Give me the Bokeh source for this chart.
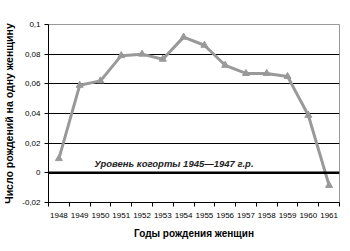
from bokeh.plotting import figure
from bokeh.models import FixedTicker, Label, Span
from bokeh.embed import file_html
from bokeh.resources import INLINE

years = ["1948", "1949", "1950", "1951", "1952", "1953", "1954", "1955",
         "1956", "1957", "1958", "1959", "1960", "1961"]
values = [0.0096, 0.059, 0.062, 0.079, 0.080, 0.0766, 0.0915, 0.086,
          0.0725, 0.067, 0.067, 0.065, 0.0388, -0.0085]
y_ticks = [-0.02, 0, 0.02, 0.04, 0.06, 0.08, 0.1]
y_tick_labels = ["-0,02", "0", "0,02", "0,04", "0,06", "0,08", "0,1"]
note = "Уровень когорты 1945—1947 г.р."
x_title = "Годы рождения женщин"
y_title = "Число рождений на одну женщину"

FONT = "Liberation Sans"
xs = [i + 0.5 for i in range(len(years))]

p = figure(width=350, height=251, output_backend="svg", toolbar_location=None,
           x_range=(0, len(years)), y_range=(-0.02, 0.1),
           min_border_left=44, min_border_right=11, min_border_top=24, min_border_bottom=49)
p.background_fill_color = "white"
p.border_fill_color = "white"
p.outline_line_color = "#999999"
p.outline_line_width = 1

# grid
p.xgrid.visible = False
p.ygrid.ticker = FixedTicker(ticks=[0.02, 0.04, 0.06, 0.08])
p.ygrid.grid_line_color = "black"
p.ygrid.grid_line_width = 1

p.add_layout(Span(location=0, dimension="width", line_color="black", line_width=2.5))

# axes
xt = FixedTicker(ticks=xs, minor_ticks=list(range(len(years) + 1)))
p.xaxis.ticker = xt
p.xaxis.major_label_overrides = {x: y for x, y in zip(xs, years)}
p.xaxis.major_tick_out = 0
p.xaxis.major_tick_in = 0
p.xaxis.minor_tick_out = 4
p.xaxis.minor_tick_in = 0
p.xaxis.minor_tick_line_color = "black"
p.xaxis.axis_line_color = "black"
p.xaxis.major_label_text_font = FONT
p.xaxis.major_label_text_font_size = "8px"
p.xaxis.major_label_text_color = "black"
p.xaxis.major_label_standoff = 6
p.xaxis.axis_label = x_title
p.xaxis.axis_label_text_font = FONT
p.xaxis.axis_label_text_font_size = "10px"
p.xaxis.axis_label_text_font_style = "bold"
p.xaxis.axis_label_text_color = "black"
p.xaxis.axis_label_standoff = 7

p.yaxis.ticker = FixedTicker(ticks=y_ticks)
p.yaxis.major_label_overrides = {t: l for t, l in zip(y_ticks, y_tick_labels)}
p.yaxis.major_tick_out = 4
p.yaxis.major_tick_in = 0
p.yaxis.minor_tick_out = 0
p.yaxis.minor_tick_in = 0
p.yaxis.axis_line_color = "black"
p.yaxis.major_label_text_font = FONT
p.yaxis.major_label_text_font_size = "8px"
p.yaxis.major_label_text_color = "black"
p.yaxis.major_label_standoff = 4
p.yaxis.axis_label = y_title
p.yaxis.axis_label_text_font = FONT
p.yaxis.axis_label_text_font_size = "10.5px"
p.yaxis.axis_label_text_font_style = "bold"
p.yaxis.axis_label_text_color = "black"
p.yaxis.axis_label_standoff = 4

# series
p.line(xs, values, line_color="#999999", line_width=3)
p.scatter(xs, values, marker="triangle", size=7, fill_color="#999999", line_color="#999999")

p.add_layout(Label(x=2.2, y=0.006, text=note, text_font=FONT, text_font_size="9.5px",
                   text_font_style="bold italic", text_color="#222222", text_baseline="middle"))

open("out.html", "w").write(file_html(p, INLINE))
